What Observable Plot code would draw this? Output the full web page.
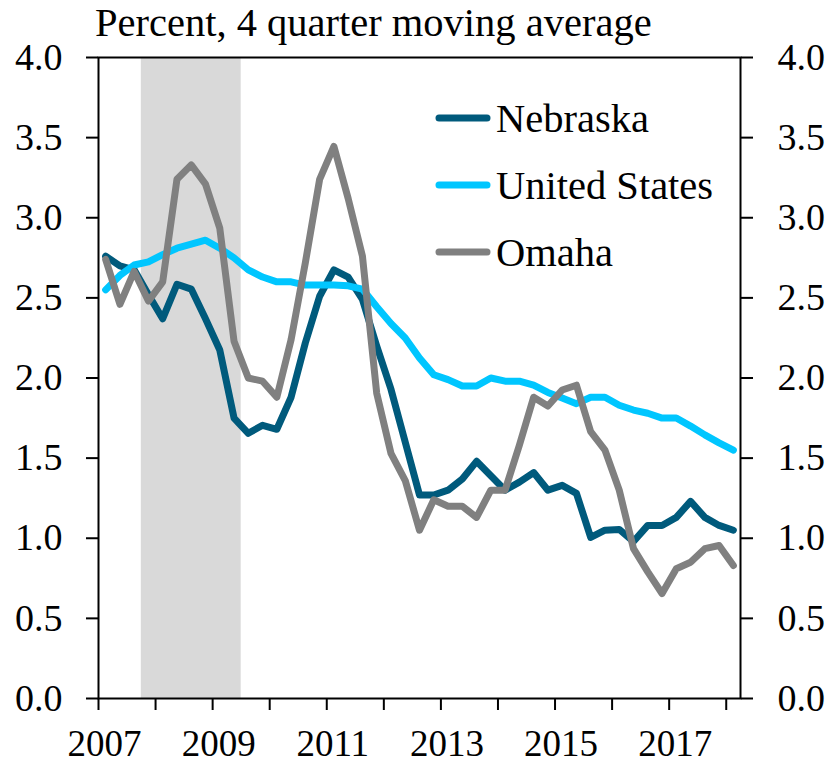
<!DOCTYPE html>
<html><head><meta charset="utf-8">
<script src="https://cdn.jsdelivr.net/npm/d3@7"></script>
<script src="https://cdn.jsdelivr.net/npm/@observablehq/plot@0.6"></script>
<style>
body{margin:0;background:#fff;}
#wrap{position:relative;width:829px;height:763px;font-family:"Liberation Serif",serif;color:#000;}
#title{position:absolute;left:95px;top:0;font-size:40.5px;line-height:46px;white-space:nowrap;z-index:2;}
#chart{position:absolute;left:0;top:0;}
.leg{position:absolute;left:433px;height:46px;display:flex;align-items:center;font-size:40.5px;white-space:nowrap;}
.leg svg{margin-right:3px;}
</style>
</head><body>
<div id="wrap">
  <div id="chart"></div>
  <div id="title">Percent, 4 quarter moving average</div>
</div>
<script>
const quarters = [
 "2007Q1","2007Q2","2007Q3","2007Q4","2008Q1","2008Q2","2008Q3","2008Q4",
 "2009Q1","2009Q2","2009Q3","2009Q4","2010Q1","2010Q2","2010Q3","2010Q4",
 "2011Q1","2011Q2","2011Q3","2011Q4","2012Q1","2012Q2","2012Q3","2012Q4",
 "2013Q1","2013Q2","2013Q3","2013Q4","2014Q1","2014Q2","2014Q3","2014Q4",
 "2015Q1","2015Q2","2015Q3","2015Q4","2016Q1","2016Q2","2016Q3","2016Q4",
 "2017Q1","2017Q2","2017Q3","2017Q4","2018Q1"];
const nebraska = [2.76,2.70,2.675,2.52,2.37,2.585,2.555,2.37,2.175,1.75,1.655,1.705,1.68,1.88,2.22,2.51,2.675,2.63,2.49,2.2,1.93,1.6,1.27,1.27,1.30,1.37,1.48,1.39,1.30,1.35,1.41,1.30,1.33,1.28,1.005,1.05,1.055,0.98,1.08,1.08,1.13,1.23,1.13,1.08,1.05];
const unitedStates = [2.55,2.64,2.705,2.725,2.77,2.81,2.835,2.86,2.81,2.75,2.675,2.63,2.60,2.60,2.58,2.58,2.58,2.575,2.555,2.445,2.34,2.25,2.125,2.02,1.99,1.95,1.95,2.00,1.98,1.98,1.955,1.91,1.875,1.84,1.88,1.88,1.83,1.80,1.78,1.75,1.75,1.70,1.645,1.595,1.55];
const omaha = [2.74,2.46,2.665,2.48,2.60,3.24,3.33,3.21,2.935,2.23,2.00,1.98,1.88,2.24,2.72,3.24,3.445,3.12,2.76,1.905,1.53,1.36,1.05,1.24,1.20,1.20,1.13,1.30,1.30,1.58,1.88,1.825,1.925,1.955,1.665,1.55,1.30,0.935,0.79,0.655,0.81,0.85,0.935,0.955,0.83];
const seriesNames = ["Nebraska","United States","Omaha"];
const seriesColors = ["#005a7c","#00c6ff","#808080"];
const yTicks = [0,0.5,1,1.5,2,2.5,3,3.5,4];
const yearTicks = [2007,2008,2009,2010,2011,2012,2013,2014,2015,2016,2017,2018];
const yearLabels = [2007,2009,2011,2013,2015,2017];
const xDomain = [2007, 2018.25];
const recessions = [{start: 2007.75, end: 2009.5}];

const toYear = q => +q.slice(0,4) + (+q.slice(5) - 1) / 4 + 0.125;
const values = [nebraska, unitedStates, omaha];
const rows = [];
seriesNames.forEach((name, s) => {
  quarters.forEach((q, i) => rows.push({series: name, t: toYear(q), v: values[s][i]}));
});

const font = {fontFamily: "Liberation Serif", fontSize: 38};
const chart = Plot.plot({
  width: 829, height: 763,
  marginLeft: 98, marginRight: 89, marginTop: 57, marginBottom: 65,
  x: {domain: xDomain, label: null},
  y: {domain: [yTicks[0], yTicks[yTicks.length-1]], label: null},
  color: {domain: seriesNames, range: seriesColors},
  style: {background: "transparent", color: "#000", fontFamily: "Liberation Serif", overflow: "visible"},
  marks: [
    Plot.rect(recessions, {x1: "start", x2: "end", fill: "#d9d9d9"}),
    Plot.line(rows, {x: "t", y: "v", z: "series", stroke: "series", strokeWidth: 7, strokeLinejoin: "round", strokeLinecap: "round"}),
    Plot.frame({stroke: "#000", strokeWidth: 2}),
    Plot.axisY({anchor: "left", label: null, ticks: yTicks, tickFormat: d => d.toFixed(1), tickSize: 12, tickPadding: 24, strokeWidth: 2, ...font}),
    Plot.axisY({anchor: "right", label: null, ticks: yTicks, tickFormat: d => d.toFixed(1), tickSize: 12, tickPadding: 25, strokeWidth: 2, ...font}),
    Plot.axisX({label: null, ticks: yearTicks, tickFormat: () => "", tickSize: 12, strokeWidth: 2, ...font}),
    Plot.axisX({label: null, ticks: yearLabels, tickFormat: d => String(d), tickSize: 0, tickPadding: 31, dx: 6, fontFamily: "Liberation Serif", fontSize: 37})
  ]
});
document.getElementById("chart").appendChild(chart);

const centers = [118, 185, 252];
const wrap = document.getElementById("wrap");
seriesNames.forEach((name, i) => {
  const d = document.createElement("div");
  d.className = "leg";
  d.style.top = (centers[i] - 23) + "px";
  d.innerHTML = `<svg width="60" height="12"><line x1="6" x2="54" y1="6" y2="6" stroke="${seriesColors[i]}" stroke-width="7" stroke-linecap="round"/></svg><span>${name}</span>`;
  wrap.appendChild(d);
});
</script>
</body></html>
